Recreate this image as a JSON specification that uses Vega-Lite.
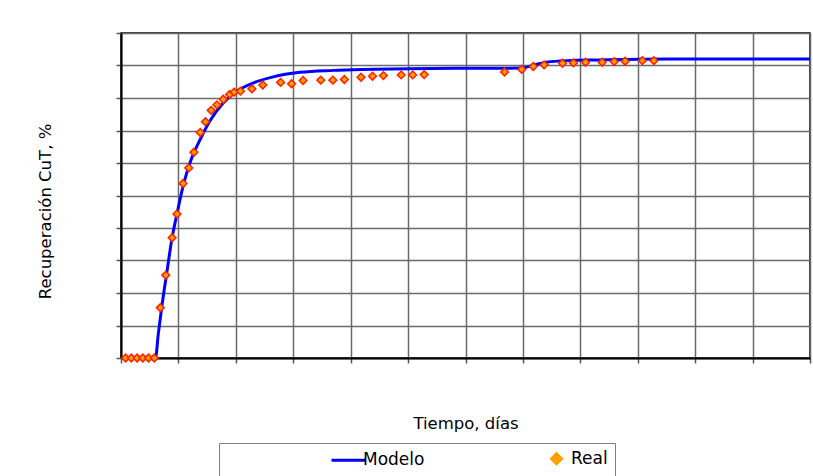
{
  "$schema": "https://vega.github.io/schema/vega-lite/v6.json",
  "autosize": "none",
  "width": 689,
  "height": 325,
  "padding": {"left": 121, "top": 33, "right": 3, "bottom": 118},
  "background": "white",
  "config": {
    "view": {"stroke": "#000000", "strokeWidth": 1.5},
    "font": "DejaVu Sans"
  },
  "data": {
    "values": [
      {"serie": "Modelo", "t": 0.8, "y": 0},
      {"serie": "Modelo", "t": 6.0, "y": 0},
      {"serie": "Modelo", "t": 6.5, "y": 7.5},
      {"serie": "Modelo", "t": 7.1, "y": 15.7},
      {"serie": "Modelo", "t": 8.0, "y": 26.5},
      {"serie": "Modelo", "t": 8.8, "y": 36},
      {"serie": "Modelo", "t": 9.8, "y": 44.8},
      {"serie": "Modelo", "t": 10.9, "y": 53.5},
      {"serie": "Modelo", "t": 12.0, "y": 60},
      {"serie": "Modelo", "t": 13.8, "y": 67.3},
      {"serie": "Modelo", "t": 15.5, "y": 73},
      {"serie": "Modelo", "t": 17.8, "y": 78.5},
      {"serie": "Modelo", "t": 20.1, "y": 82},
      {"serie": "Modelo", "t": 23.0, "y": 84.6},
      {"serie": "Modelo", "t": 26.5, "y": 86.5},
      {"serie": "Modelo", "t": 31.2, "y": 87.9},
      {"serie": "Modelo", "t": 37.0, "y": 88.5},
      {"serie": "Modelo", "t": 42.0, "y": 88.8},
      {"serie": "Modelo", "t": 54.0, "y": 89.1},
      {"serie": "Modelo", "t": 69.8, "y": 89.2},
      {"serie": "Modelo", "t": 71.8, "y": 90.1},
      {"serie": "Modelo", "t": 74.1, "y": 91.0},
      {"serie": "Modelo", "t": 77.6, "y": 91.5},
      {"serie": "Modelo", "t": 83.4, "y": 91.7},
      {"serie": "Modelo", "t": 90.4, "y": 91.9},
      {"serie": "Modelo", "t": 100, "y": 92.0},
      {"serie": "Modelo", "t": 120, "y": 92.0},
      {"serie": "Real", "t": 0.8, "y": 0},
      {"serie": "Real", "t": 1.8, "y": 0},
      {"serie": "Real", "t": 2.8, "y": 0},
      {"serie": "Real", "t": 3.8, "y": 0},
      {"serie": "Real", "t": 4.8, "y": 0},
      {"serie": "Real", "t": 5.8, "y": 0},
      {"serie": "Real", "t": 6.85, "y": 15.5},
      {"serie": "Real", "t": 7.8, "y": 25.5},
      {"serie": "Real", "t": 8.9, "y": 37.0},
      {"serie": "Real", "t": 9.75, "y": 44.3},
      {"serie": "Real", "t": 10.8, "y": 53.7},
      {"serie": "Real", "t": 11.8, "y": 58.5},
      {"serie": "Real", "t": 12.7, "y": 63.3},
      {"serie": "Real", "t": 13.8, "y": 69.4},
      {"serie": "Real", "t": 14.7, "y": 72.7},
      {"serie": "Real", "t": 15.7, "y": 76.2},
      {"serie": "Real", "t": 16.7, "y": 77.9},
      {"serie": "Real", "t": 17.8, "y": 79.6},
      {"serie": "Real", "t": 18.9, "y": 81.1},
      {"serie": "Real", "t": 19.7, "y": 81.8},
      {"serie": "Real", "t": 20.8, "y": 82.1},
      {"serie": "Real", "t": 22.8, "y": 82.8},
      {"serie": "Real", "t": 24.7, "y": 84.0},
      {"serie": "Real", "t": 27.8, "y": 84.8},
      {"serie": "Real", "t": 29.7, "y": 84.4},
      {"serie": "Real", "t": 31.7, "y": 85.4},
      {"serie": "Real", "t": 34.8, "y": 85.5},
      {"serie": "Real", "t": 36.9, "y": 85.5},
      {"serie": "Real", "t": 38.9, "y": 85.7},
      {"serie": "Real", "t": 41.8, "y": 86.4},
      {"serie": "Real", "t": 43.8, "y": 86.7},
      {"serie": "Real", "t": 45.7, "y": 86.9},
      {"serie": "Real", "t": 48.8, "y": 87.1},
      {"serie": "Real", "t": 50.8, "y": 87.1},
      {"serie": "Real", "t": 52.8, "y": 87.2},
      {"serie": "Real", "t": 66.8, "y": 88.0},
      {"serie": "Real", "t": 69.8, "y": 88.8},
      {"serie": "Real", "t": 71.8, "y": 89.7},
      {"serie": "Real", "t": 73.7, "y": 90.2},
      {"serie": "Real", "t": 76.9, "y": 90.7},
      {"serie": "Real", "t": 78.8, "y": 90.8},
      {"serie": "Real", "t": 80.9, "y": 91.0},
      {"serie": "Real", "t": 83.8, "y": 91.0},
      {"serie": "Real", "t": 85.9, "y": 91.2},
      {"serie": "Real", "t": 87.8, "y": 91.3},
      {"serie": "Real", "t": 90.8, "y": 91.5},
      {"serie": "Real", "t": 92.8, "y": 91.5}
    ]
  },
  "encoding": {
    "x": {
      "field": "t", "type": "quantitative",
      "scale": {"domain": [0, 120], "nice": false, "zero": false},
      "axis": {
        "title": "Tiempo, días",
        "values": [0, 10, 20, 30, 40, 50, 60, 70, 80, 90, 100, 110, 120],
        "labels": false,
        "grid": true, "gridColor": "#6a6a6a", "gridWidth": 1.5, "gridOpacity": 1,
        "ticks": true, "tickSize": 5, "tickColor": "#555555", "tickWidth": 1.5,
        "domain": true, "domainColor": "#000000", "domainWidth": 2,
        "titleFont": "DejaVu Sans", "titleFontSize": 16.5, "titleFontWeight": "normal", "titleColor": "#000000",
        "titleBaseline": "alphabetic", "titleY": 70
      }
    },
    "y": {
      "field": "y", "type": "quantitative",
      "scale": {"domain": [0, 100], "nice": false},
      "axis": {
        "title": "Recuperación CuT, %",
        "values": [0, 10, 20, 30, 40, 50, 60, 70, 80, 90, 100],
        "labels": false,
        "grid": true, "gridColor": "#6a6a6a", "gridWidth": 1.5, "gridOpacity": 1,
        "ticks": true, "tickSize": 5, "tickColor": "#555555", "tickWidth": 1.5,
        "domain": true, "domainColor": "#000000", "domainWidth": 2,
        "titleFont": "DejaVu Sans", "titleFontSize": 16.5, "titleFontWeight": "normal", "titleColor": "#000000",
        "titleAngle": -90, "titleBaseline": "alphabetic", "titleAlign": "center",
        "titleX": -71, "titleY": 178
      }
    },
    "color": {
      "field": "serie", "type": "nominal",
      "scale": {"domain": ["Modelo", "Real"], "range": ["#0000FF", "#FFA000"]},
      "legend": {
        "title": null,
        "orient": "none",
        "legendX": 98,
        "legendY": 410,
        "direction": "horizontal",
        "strokeColor": "#808080",
        "fillColor": "#FFFFFF",
        "padding": 7,
        "symbolSize": 100,
        "symbolOffset": 114,
        "labelOffset": 6,
        "columnPadding": 9,
        "labelFont": "DejaVu Sans",
        "labelFontSize": 17,
        "labelColor": "#000000",
        "labelLimit": 400,
        "encoding": {
          "symbols": {
            "shape": {"condition": {"test": "datum.value == 'Modelo'", "value": "M-3.4,0H3.4"}, "value": "diamond"},
            "size": {"value": 100},
            "fill": {"condition": {"test": "datum.value == 'Modelo'", "value": "transparent"}, "value": "#FF8C1A"},
            "stroke": {"condition": {"test": "datum.value == 'Modelo'", "value": "#0000FF"}, "value": "transparent"},
            "strokeWidth": {"value": 3},
            "opacity": {"value": 1}
          }
        }
      }
    }
  },
  "layer": [
    {
      "transform": [{"filter": "datum.serie == 'Modelo'"}],
      "mark": {"type": "line", "strokeWidth": 3, "interpolate": "monotone", "clip": true}
    },
    {
      "transform": [{"filter": "datum.serie == 'Real'"}],
      "mark": {"type": "point", "shape": "diamond", "filled": true, "size": 60, "stroke": "#FF2000", "strokeWidth": 1.5, "opacity": 1}
    }
  ]
}
